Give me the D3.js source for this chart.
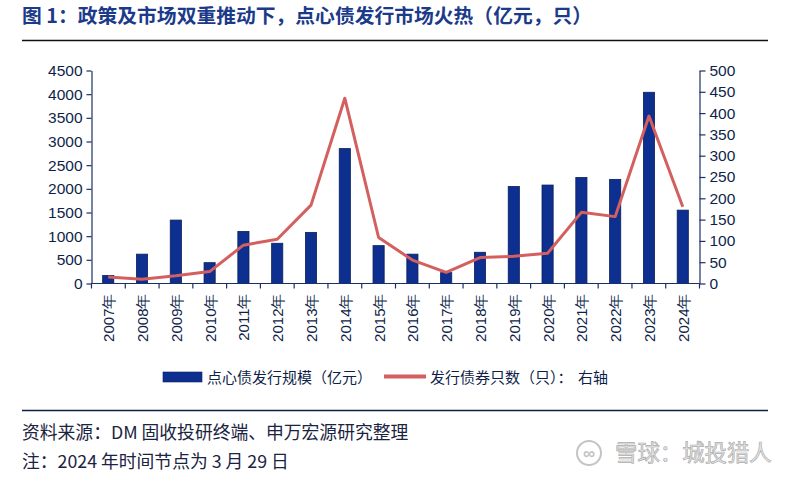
<!DOCTYPE html>
<html>
<head>
<meta charset="utf-8">
<script src="https://cdn.jsdelivr.net/npm/d3@7"></script>
<style>
  body { margin: 0; background: #fff; }
  svg { display: block; }
</style>
</head>
<body>
<script>
// chart data
var years = ["2007年","2008年","2009年","2010年","2011年","2012年","2013年","2014年","2015年",
             "2016年","2017年","2018年","2019年","2020年","2021年","2022年","2023年","2024年"];
var scaleAmt = [170, 620, 1340, 440, 1100, 850, 1080, 2850, 800,
                620, 230, 660, 2050, 2080, 2240, 2200, 4040, 1550];
var bondCount = [15, 10, 18, 28, 90, 104, 184, 435, 108,
                 55, 26, 61, 64, 71, 167, 157, 393, 180];
var leftTicks = [0, 500, 1000, 1500, 2000, 2500, 3000, 3500, 4000, 4500];
var rightTicks = [0, 50, 100, 150, 200, 250, 300, 350, 400, 450, 500];

var W = 800, H = 479;
var cjk = "'Noto Sans CJK SC', 'Liberation Sans', sans-serif";
var num = "'Liberation Sans', Arial, sans-serif";
var navy = "#1c2f66";
var barFill = "#0d2f8f", lineCol = "#d3605f";

var svg = d3.select('body').append('svg')
  .attr('width', W).attr('height', H);

// title + rules
svg.append('text')
  .attr('x', 22).attr('y', 23)
  .style('font-family', cjk).style('font-size', '19.8px').style('font-weight', 'bold')
  .style('fill', '#1b3a8a')
  .text('图 1：政策及市场双重推动下，点心债发行市场火热（亿元，只）');
svg.append('line').attr('x1', 22).attr('x2', 768).attr('y1', 40.5).attr('y2', 40.5)
  .style('stroke', '#111').style('stroke-width', 1.6);
svg.append('line').attr('x1', 22).attr('x2', 768).attr('y1', 410.5).attr('y2', 410.5)
  .style('stroke', '#0f1f4a').style('stroke-width', 1.6);

var x0 = 91.5, x1 = 699.5, yTop = 70.5, yBot = 283.5;

var x = d3.scaleBand().domain(years).range([x0, x1]).paddingInner(0.67).paddingOuter(0.33);
var yL = d3.scaleLinear().domain([0, 4500]).range([yBot, yTop]);
var yR = d3.scaleLinear().domain([0, 500]).range([yBot, yTop]);

// bars
svg.append('g').selectAll('rect').data(scaleAmt).enter().append('rect')
  .attr('x', function(d, i) { return x(years[i]); })
  .attr('y', function(d) { return yL(d); })
  .attr('width', x.bandwidth())
  .attr('height', function(d) { return yBot - yL(d); })
  .style('fill', barFill).style('stroke', '#0a1f5e').style('stroke-width', 0.8);

// line
var line = d3.line()
  .x(function(d, i) { return x(years[i]) + x.bandwidth() / 2; })
  .y(function(d) { return yR(d); });
svg.append('path').datum(bondCount)
  .attr('d', line)
  .style('fill', 'none').style('stroke', lineCol).style('stroke-width', 3)
  .style('stroke-linejoin', 'round');

// axes
var styleAxis = function(g) {
  g.selectAll('path, line').style('stroke', navy).style('stroke-width', 1.2);
  g.selectAll('text').style('font-family', num).style('font-size', '15.5px').style('fill', '#0f1f4a');
};

svg.append('g').attr('transform', 'translate(' + x0 + ',0)')
  .call(d3.axisLeft(yL).tickValues(leftTicks).tickFormat(d3.format('d'))
    .tickSize(5).tickSizeOuter(0).tickPadding(4))
  .call(styleAxis);

svg.append('g').attr('transform', 'translate(' + x1 + ',0)')
  .call(d3.axisRight(yR).tickValues(rightTicks).tickFormat(d3.format('d'))
    .tickSize(6).tickSizeOuter(0).tickPadding(4))
  .call(styleAxis);

// bottom axis with ticks between categories
var n = years.length;
var gx = svg.append('g').attr('transform', 'translate(0,' + yBot + ')');
gx.append('line').attr('x1', x0).attr('x2', x1).attr('y1', 0).attr('y2', 0)
  .style('stroke', navy).style('stroke-width', 1.2);
gx.selectAll('line.tk').data(d3.range(n + 1)).enter().append('line')
  .attr('class', 'tk')
  .attr('x1', function(i) { return x0 + i * (x1 - x0) / n; })
  .attr('x2', function(i) { return x0 + i * (x1 - x0) / n; })
  .attr('y1', 0).attr('y2', 5)
  .style('stroke', navy).style('stroke-width', 1.2);
gx.selectAll('text').data(years).enter().append('text')
  .attr('transform', function(d, i) {
    var cx = x(d) + x.bandwidth() / 2 + 6;
    return 'translate(' + cx + ',10) rotate(-90)';
  })
  .attr('text-anchor', 'end')
  .style('font-family', num).style('font-size', '15px').style('fill', '#0f1f4a')
  .text(function(d) { return d; });

// legend
var lg = svg.append('g');
lg.append('rect').attr('x', 163).attr('y', 372).attr('width', 39).attr('height', 10)
  .style('fill', barFill).style('stroke', '#0a1f5e').style('stroke-width', 0.6);
lg.append('text').attr('x', 207).attr('y', 383)
  .style('font-family', cjk).style('font-size', '15px').style('fill', '#0f1f4a')
  .text('点心债发行规模（亿元）');
lg.append('line').attr('x1', 384).attr('x2', 426).attr('y1', 376.5).attr('y2', 376.5)
  .style('stroke', lineCol).style('stroke-width', 4);
var lt = lg.append('text').attr('x', 430).attr('y', 383)
  .style('font-family', cjk).style('font-size', '15px').style('fill', '#0f1f4a');
lt.append('tspan').text('发行债券只数（只）：');
lt.append('tspan').attr('x', 578).text('右轴');

// footnotes
svg.append('text').attr('x', 22).attr('y', 439)
  .style('font-family', cjk).style('font-size', '17.8px').style('fill', '#1a2440')
  .text('资料来源：DM 固收投研终端、申万宏源研究整理');
svg.append('text').attr('x', 22).attr('y', 468)
  .style('font-family', cjk).style('font-size', '17.8px').style('fill', '#1a2440')
  .text('注：2024 年时间节点为 3 月 29 日');

// watermark
var wm = svg.append('g');
wm.append('circle').attr('cx', 589).attr('cy', 453).attr('r', 12)
  .style('fill', 'none').style('stroke', '#c4c4c4').style('stroke-width', 2);
wm.append('text').attr('x', 589).attr('y', 459).attr('text-anchor', 'middle')
  .style('font-family', num).style('font-size', '17px').style('font-weight', 'bold').style('fill', '#c4c4c4')
  .text('∞');
wm.append('text').attr('x', 615).attr('y', 461)
  .style('font-family', cjk).style('font-size', '22.4px')
  .style('fill', '#e6e6e6').style('stroke', '#adadad').style('stroke-width', 0.7)
  .text('雪球：城投猎人');
</script>
</body>
</html>
